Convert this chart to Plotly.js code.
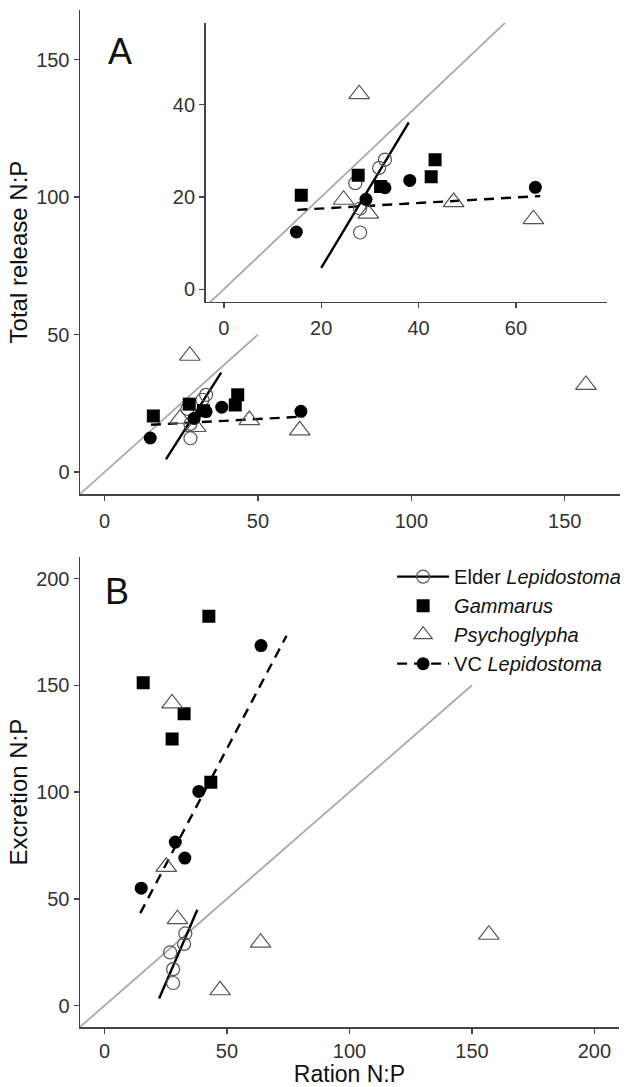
<!DOCTYPE html>
<html><head><meta charset="utf-8">
<script src="https://cdn.plot.ly/plotly-3.0.1.min.js"></script>
<style>html,body{margin:0;padding:0;background:#fff}</style>
</head><body><div id="chart" style="width:631px;height:1087px"></div>
<script>
// ---------- Panel A: Total release N:P vs Ration N:P ----------
const elderA_x = [27.0, 31.9, 33.1, 28.0, 28.0];
const elderA_y = [23.0, 26.3, 28.1, 17.5, 12.3];
const gamA_x   = [15.9, 27.6, 32.2, 42.6, 43.4];
const gamA_y   = [20.4, 24.7, 22.3, 24.4, 28.1];
const psyA_x   = [27.8, 24.6, 29.7, 47.2, 63.6, 156.9];
const psyA_y   = [42.3, 19.4, 16.4, 18.9, 15.2, 31.7];
const vcA_x    = [14.9, 29.2, 33.1, 38.2, 64.0];
const vcA_y    = [12.4, 19.5, 22.0, 23.6, 22.1];
// fitted lines (end points)
const elderFitA_x = [20.0, 38.0];
const elderFitA_y = [4.6, 36.2];
const vcFitA_x    = [15.1, 65.0];
const vcFitA_y    = [17.2, 20.2];
// 1:1 reference lines
const oneA_main  = [-8, 50];
const oneA_inset = [-4, 58];

// ---------- Panel B: Excretion N:P vs Ration N:P ----------
const elderB_x = [26.8, 28.0, 28.0, 32.5, 33.0];
const elderB_y = [24.9, 17.1, 10.6, 28.9, 33.8];
const gamB_x   = [42.6, 15.8, 32.5, 27.6, 43.4];
const gamB_y   = [182.3, 151.2, 136.7, 124.9, 104.6];
const psyB_x   = [27.6, 25.2, 29.8, 63.7, 47.2, 156.9];
const psyB_y   = [141.5, 65.0, 40.5, 29.5, 7.2, 33.2];
const vcB_x    = [63.9, 38.5, 28.9, 32.8, 15.0];
const vcB_y    = [168.6, 100.3, 76.6, 69.1, 55.0];
const elderFitB_x = [22.3, 37.9];
const elderFitB_y = [3.3, 44.9];
const vcFitB_x    = [14.6, 74.3];
const vcFitB_y    = [43.3, 173.2];
const oneB = [-10, 150];

const groupNames = ['Elder <i>Lepidostoma</i>', '<i>Gammarus</i>', '<i>Psychoglypha</i>', 'VC <i>Lepidostoma</i>'];

const ticksA = [0, 50, 100, 150];
const ticksInset = [0, 20, 40, 60];
const ticksInsetY = [0, 20, 40];
const ticksB = [0, 50, 100, 150, 200];
const labelA = 'A', labelB = 'B';

const FONT = 'Liberation Sans, Arial, Helvetica, sans-serif';
const mk = {
  elder: {symbol: 'circle-open', size: 13, color: '#555', line: {width: 1.2, color: '#555'}},
  gam:   {symbol: 'square', size: 13, color: '#000'},
  psy:   {symbol: 'triangle-up-open', size: 18, color: '#555', line: {width: 1.2, color: '#555'}},
  vc:    {symbol: 'circle', size: 13, color: '#000'}
};
const greyLine = {color: '#aaaaaa', width: 1.8};
const solidLine = {color: '#000', width: 2.4};
const dashLine = {color: '#000', width: 2.4, dash: '10px,7px'};

function panel(xa, ya, d) {
  const t = [];
  t.push({x: d.one, y: d.one, xaxis: xa, yaxis: ya, mode: 'lines', line: greyLine, showlegend: false, hoverinfo: 'skip'});
  t.push({x: d.efx, y: d.efy, xaxis: xa, yaxis: ya, mode: 'lines', line: solidLine, showlegend: false});
  t.push({x: d.vfx, y: d.vfy, xaxis: xa, yaxis: ya, mode: 'lines', line: dashLine, showlegend: false});
  t.push({x: d.ex, y: d.ey, xaxis: xa, yaxis: ya, mode: 'markers', marker: mk.elder, showlegend: false});
  t.push({x: d.gx, y: d.gy, xaxis: xa, yaxis: ya, mode: 'markers', marker: mk.gam, showlegend: false});
  t.push({x: d.px, y: d.py, xaxis: xa, yaxis: ya, mode: 'markers', marker: mk.psy, showlegend: false});
  t.push({x: d.vx, y: d.vy, xaxis: xa, yaxis: ya, mode: 'markers', marker: mk.vc, showlegend: false});
  return t;
}

let traces = [];
traces = traces.concat(panel('x', 'y', {one: oneA_main, efx: elderFitA_x, efy: elderFitA_y, vfx: vcFitA_x, vfy: vcFitA_y,
  ex: elderA_x, ey: elderA_y, gx: gamA_x, gy: gamA_y, px: psyA_x, py: psyA_y, vx: vcA_x, vy: vcA_y}));
traces = traces.concat(panel('x3', 'y3', {one: oneA_inset, efx: elderFitA_x, efy: elderFitA_y, vfx: vcFitA_x, vfy: vcFitA_y,
  ex: elderA_x, ey: elderA_y, gx: gamA_x, gy: gamA_y, px: psyA_x, py: psyA_y, vx: vcA_x, vy: vcA_y}));
traces = traces.concat(panel('x2', 'y2', {one: oneB, efx: elderFitB_x, efy: elderFitB_y, vfx: vcFitB_x, vfy: vcFitB_y,
  ex: elderB_x, ey: elderB_y, gx: gamB_x, gy: gamB_y, px: psyB_x, py: psyB_y, vx: vcB_x, vy: vcB_y}));

// legend entries
traces.push({x: [null], y: [null], xaxis: 'x2', yaxis: 'y2', mode: 'lines+markers', name: groupNames[0], line: solidLine, marker: mk.elder});
traces.push({x: [null], y: [null], xaxis: 'x2', yaxis: 'y2', mode: 'markers', name: groupNames[1], marker: mk.gam});
traces.push({x: [null], y: [null], xaxis: 'x2', yaxis: 'y2', mode: 'markers', name: groupNames[2], marker: mk.psy});
traces.push({x: [null], y: [null], xaxis: 'x2', yaxis: 'y2', mode: 'lines+markers', name: groupNames[3], line: dashLine, marker: mk.vc});

function ax(extra) {
  return Object.assign({
    showline: true, linecolor: '#444', linewidth: 1.5, ticks: 'outside', ticklen: 5, tickwidth: 1.3, tickcolor: '#444',
    showgrid: false, zeroline: false, tickfont: {family: FONT, size: 20, color: '#333'}, fixedrange: true
  }, extra);
}
const titleFont = {family: FONT, size: 24, color: '#111'};

const layout = {
  width: 631, height: 1087,
  margin: {l: 80, r: 5, t: 10, b: 60},
  paper_bgcolor: '#fff', plot_bgcolor: 'rgba(0,0,0,0)',
  showlegend: true,
  legend: {x: 0.578, y: 0.462, xanchor: 'left', yanchor: 'top', font: {family: FONT, size: 20, color: '#111'},
           bgcolor: 'rgba(0,0,0,0)', itemwidth: 52, tracegroupgap: 0},
  xaxis: ax({domain: [0, 1], range: [-8, 168], tickvals: ticksA, anchor: 'y', ticklabelstandoff: 3}),
  yaxis: ax({domain: [0.524, 1], range: [-8, 168], tickvals: ticksA, anchor: 'x',
             title: {text: 'Total release N:P', font: titleFont, standoff: 1}}),
  xaxis2: ax({domain: [0, 0.998], range: [-10, 210], tickvals: ticksB, anchor: 'y2', ticklabelstandoff: 0,
             title: {text: 'Ration N:P', font: {family: FONT, size: 23, color: '#111'}, standoff: 4}}),
  xaxis2_dummy: undefined,
  yaxis2: ax({domain: [0, 0.462], range: [-10, 210], tickvals: ticksB, anchor: 'x2',
             title: {text: 'Excretion N:P', font: titleFont, standoff: 1}}),
  xaxis3: ax({domain: [0.2326, 0.9762], range: [-3.75, 78.75], tickvals: ticksInset, anchor: 'y3', ticklabelstandoff: 3}),
  yaxis3: ax({domain: [0.713, 0.9873], range: [-2.75, 57.75], tickvals: ticksInsetY, anchor: 'x3'}),
  annotations: [
    {text: labelA, xref: 'x', yref: 'y', x: 5, y: 153, showarrow: false, font: {family: FONT, size: 36, color: '#111'}},
    {text: labelB, xref: 'x2', yref: 'y2', x: 5, y: 194, showarrow: false, font: {family: FONT, size: 36, color: '#111'}}
  ]
};
delete layout.xaxis2_dummy;

Plotly.newPlot('chart', traces, layout, {displayModeBar: false, staticPlot: true});
</script>
</body></html>
